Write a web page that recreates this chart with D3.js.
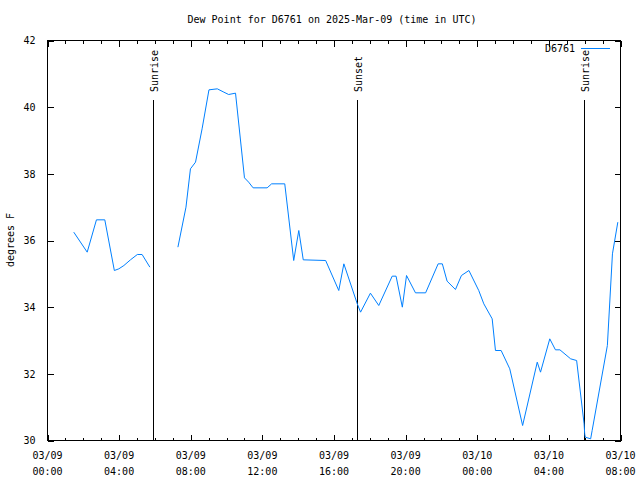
<!DOCTYPE html>
<html><head><meta charset="utf-8">
<script src="https://cdn.jsdelivr.net/npm/d3@7"></script>
<style>
body{margin:0;background:#fff;}
text{font-family:"DejaVu Sans Mono",monospace;font-size:10px;fill:#000;}
</style></head>
<body><svg id="c" width="640" height="480"></svg>
<script>
const titleText = "Dew Point for D6761 on 2025-Mar-09 (time in UTC)";
const seriesName = "D6761";
const yLabel = "degrees F";
const times = [
 "2025-03-09T01:28","2025-03-09T02:13","2025-03-09T02:44","2025-03-09T03:12","2025-03-09T03:44",
 "2025-03-09T03:59","2025-03-09T04:16","2025-03-09T04:38","2025-03-09T05:01","2025-03-09T05:17",
 "2025-03-09T05:43","2025-03-09T06:30",
 "2025-03-09T07:17","2025-03-09T07:44","2025-03-09T07:59","2025-03-09T08:16","2025-03-09T08:38",
 "2025-03-09T09:01","2025-03-09T09:29","2025-03-09T09:51","2025-03-09T10:07","2025-03-09T10:30",
 "2025-03-09T11:00","2025-03-09T11:14","2025-03-09T11:29","2025-03-09T12:16","2025-03-09T12:31",
 "2025-03-09T13:15","2025-03-09T13:45","2025-03-09T14:02","2025-03-09T14:17","2025-03-09T15:32",
 "2025-03-09T16:16","2025-03-09T16:33","2025-03-09T17:18","2025-03-09T17:29","2025-03-09T18:02",
 "2025-03-09T18:30","2025-03-09T19:15","2025-03-09T19:28","2025-03-09T19:49","2025-03-09T20:03",
 "2025-03-09T20:33","2025-03-09T21:07","2025-03-09T21:49","2025-03-09T22:03","2025-03-09T22:19",
 "2025-03-09T22:47","2025-03-09T23:07","2025-03-09T23:32","2025-03-10T00:05","2025-03-10T00:22",
 "2025-03-10T00:50","2025-03-10T01:01","2025-03-10T01:20","2025-03-10T01:49","2025-03-10T02:32",
 "2025-03-10T03:21","2025-03-10T03:32","2025-03-10T04:03","2025-03-10T04:22","2025-03-10T04:37",
 "2025-03-10T05:13","2025-03-10T05:33","2025-03-10T05:58","2025-03-10T06:00","2025-03-10T06:02",
 "2025-03-10T06:20","2025-03-10T06:25","2025-03-10T07:16","2025-03-10T07:33",
 "2025-03-10T07:51"
];
const dewPoint = [
 36.25,35.65,36.62,36.62,35.1,
 35.15,35.25,35.42,35.58,35.58,
 35.2,null,
 35.8,37.0,38.15,38.35,39.35,
 40.52,40.55,40.45,40.38,40.42,
 37.88,37.75,37.58,37.58,37.7,
 37.7,35.4,36.3,35.42,35.4,
 34.5,35.3,34.1,33.85,34.42,
 34.05,34.93,34.93,34.0,34.95,
 34.43,34.43,35.3,35.3,34.78,
 34.53,34.95,35.1,34.5,34.1,
 33.65,32.7,32.7,32.15,30.45,
 32.35,32.05,33.05,32.72,32.72,
 32.45,32.4,30.5,30.2,30.1,
 30.05,30.3,32.85,35.6,
 36.55
];
const sunTimes = ["2025-03-09T05:55","2025-03-09T17:16","2025-03-10T05:59"];
const sunLabels = ["Sunrise","Sunset","Sunrise"];
const xDomain = ["2025-03-09T00:00","2025-03-10T08:00"];
const yTicks = [30,32,34,36,38,40,42];

const P = s => new Date(s + ":00Z");
const svg = d3.select("#c");
const L = 47.5, R = 620.5, T = 40.5, B = 440.5;
const x = d3.scaleUtc().domain(xDomain.map(P)).range([L, R]);
const y = d3.scaleLinear().domain([30, 42]).range([B, T]);

// title
svg.append("text").attr("x", 332).attr("y", 23).attr("text-anchor", "middle").text(titleText);
// y label
svg.append("text").attr("transform", "translate(14,240) rotate(-90)").attr("text-anchor", "middle").text(yLabel);

const majorX = d3.utcHour.every(4).range(P(xDomain[0]), new Date(P(xDomain[1]).getTime() + 1));
const minorX = d3.utcHour.every(1).range(P(xDomain[0]), new Date(P(xDomain[1]).getTime() + 1));

const g = svg.append("g").attr("shape-rendering", "crispEdges");
g.selectAll(".mb").data(minorX).join("line")
  .attr("x1", d => Math.round(x(d)) + 0.5).attr("x2", d => Math.round(x(d)) + 0.5)
  .attr("y1", B).attr("y2", B - 3).attr("stroke", "#000");
g.selectAll(".mt").data(minorX).join("line")
  .attr("x1", d => Math.round(x(d)) + 0.5).attr("x2", d => Math.round(x(d)) + 0.5)
  .attr("y1", T).attr("y2", T + 3).attr("stroke", "#000");
const xb = svg.append("g").attr("transform", `translate(0,${B})`)
  .call(d3.axisBottom(x).tickValues(majorX).tickSizeInner(-6).tickSizeOuter(0).tickFormat(""));
const xt = svg.append("g").attr("transform", `translate(0,${T})`)
  .call(d3.axisTop(x).tickValues(majorX).tickSizeInner(-6).tickSizeOuter(0).tickFormat(""));
[xb, xt].forEach(a => { a.select(".domain").remove(); a.selectAll("line").attr("shape-rendering", "crispEdges"); });
const fmtD = d3.utcFormat("%m/%d"), fmtT = d3.utcFormat("%H:%M");
const xl = svg.append("g");
majorX.forEach(d => {
  const t = xl.append("text").attr("text-anchor", "middle");
  t.append("tspan").attr("x", x(d)).attr("y", 459).text(fmtD(d));
  t.append("tspan").attr("x", x(d)).attr("y", 475).text(fmtT(d));
});
const yl = svg.append("g").attr("transform", `translate(${L},0)`)
  .call(d3.axisLeft(y).tickValues(yTicks).tickSizeInner(-6).tickSizeOuter(0).tickPadding(12).tickFormat(d3.format("d")));
const yr = svg.append("g").attr("transform", `translate(${R},0)`)
  .call(d3.axisRight(y).tickValues(yTicks).tickSizeInner(-6).tickSizeOuter(0).tickFormat(""));
[yl, yr].forEach(a => { a.select(".domain").remove(); a.selectAll("line").attr("shape-rendering", "crispEdges"); a.selectAll("text").style("font-family", "DejaVu Sans Mono").style("font-size", "10px"); });

svg.append("rect").attr("x", L).attr("y", T).attr("width", R - L).attr("height", B - T)
  .attr("fill", "none").attr("stroke", "#000").attr("shape-rendering", "crispEdges");

sunTimes.forEach((s, i) => {
  const xx = Math.round(x(P(s))) + 0.5;
  svg.append("line").attr("x1", xx).attr("x2", xx).attr("y1", 100).attr("y2", B)
    .attr("stroke", "#000").attr("shape-rendering", "crispEdges");
  svg.append("text").attr("transform", `translate(${xx + 4},92) rotate(-90)`).text(sunLabels[i]);
});

const data = times.map((t, i) => ({t: P(t), v: dewPoint[i]}));
svg.append("path").datum(data)
  .attr("fill", "none").attr("stroke", "#0080ff").attr("stroke-width", 1)
  .attr("d", d3.line().defined(d => d.v !== null).x(d => x(d.t)).y(d => y(d.v)));

svg.append("text").attr("x", 575).attr("y", 52).attr("text-anchor", "end").text(seriesName);
svg.append("line").attr("x1", 581).attr("x2", 610).attr("y1", 48.5).attr("y2", 48.5)
  .attr("stroke", "#0080ff").attr("shape-rendering", "crispEdges");
</script></body></html>
